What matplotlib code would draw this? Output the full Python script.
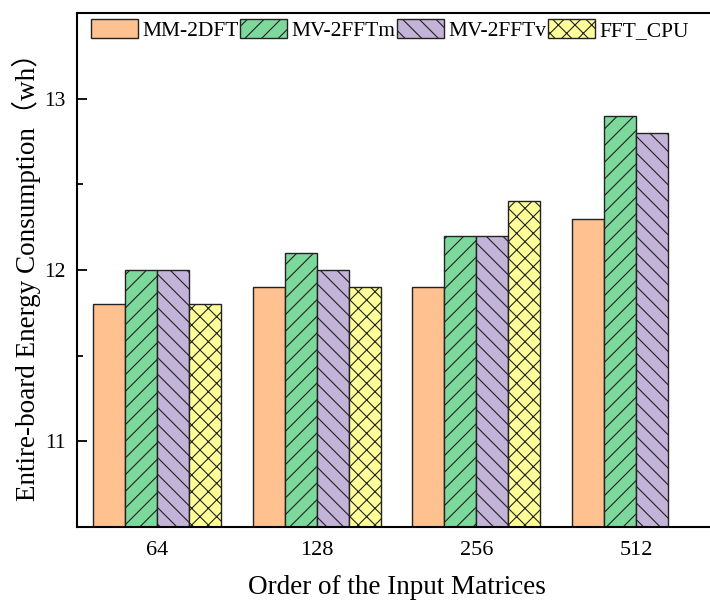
import numpy as np
import matplotlib
matplotlib.use("Agg")
import matplotlib.pyplot as plt

# energy use of the whole board for each matrix order
orders = ["64", "128", "256", "512"]
methods = ["MM-2DFT", "MV-2FFTm", "MV-2FFTv", "FFT_CPU"]
mm_2dft = [11.8, 11.9, 11.9, 12.3]
mv_2fftm = [12.0, 12.1, 12.2, 12.9]
mv_2fftv = [12.0, 12.0, 12.2, 12.8]
fft_cpu = [11.8, 11.9, 12.4, np.nan]     # no CPU run at 512
y_ticks = [11, 12, 13]

colors = ["#FFC18F", "#7DD89B", "#C4B3D8", "#FFFF99"]
hatches = ["", "//", "\\\\", "xx"]

plt.rcParams["font.family"] = ["Liberation Serif", "Noto Sans CJK SC"]
plt.rcParams["hatch.linewidth"] = 0.8

fig = plt.figure(figsize=(7.1, 6.03), dpi=100)
ax = fig.add_axes([77 / 710, 76 / 603, 639 / 710, 514 / 603])

x = np.arange(len(orders))
w = 0.2
series = [mm_2dft, mv_2fftm, mv_2fftv, fft_cpu]
for i, vals in enumerate(series):
    ax.bar(x + (i - 1.5) * w, vals, w, color=colors[i], hatch=hatches[i],
           edgecolor="#222222", linewidth=1.0, label=methods[i])

ax.set_xlim(-0.5, 3.5)
ax.set_ylim(10.5, 13.5)
ax.set_xticks(x, orders)
ax.set_yticks(y_ticks)
ax.set_yticks([11.5, 12.5], minor=True)
ax.tick_params(axis="x", length=0, pad=10, labelsize=16)
ax.tick_params(axis="y", which="major", direction="in", length=7.5, width=1.3,
               pad=8.5, labelsize=15.5)
ax.tick_params(axis="y", which="minor", direction="in", length=4, width=1.3)
for s in ax.spines.values():
    s.set_linewidth(1.5)

ax.set_xlabel("Order of the Input Matrices", fontsize=19.5, labelpad=11)
ax.set_ylabel("Entire-board Energy Consumption（wh）", fontsize=19.5, labelpad=2)

ax.legend(loc="upper left", bbox_to_anchor=(91 / 710, 1 - 19 / 603),
          bbox_transform=fig.transFigure, ncol=4, frameon=False, fontsize=15.5,
          borderpad=0, borderaxespad=0, handlelength=2.2, handleheight=0.95,
          handletextpad=0.2, columnspacing=0.05)

fig.savefig("out.png", dpi=100)
